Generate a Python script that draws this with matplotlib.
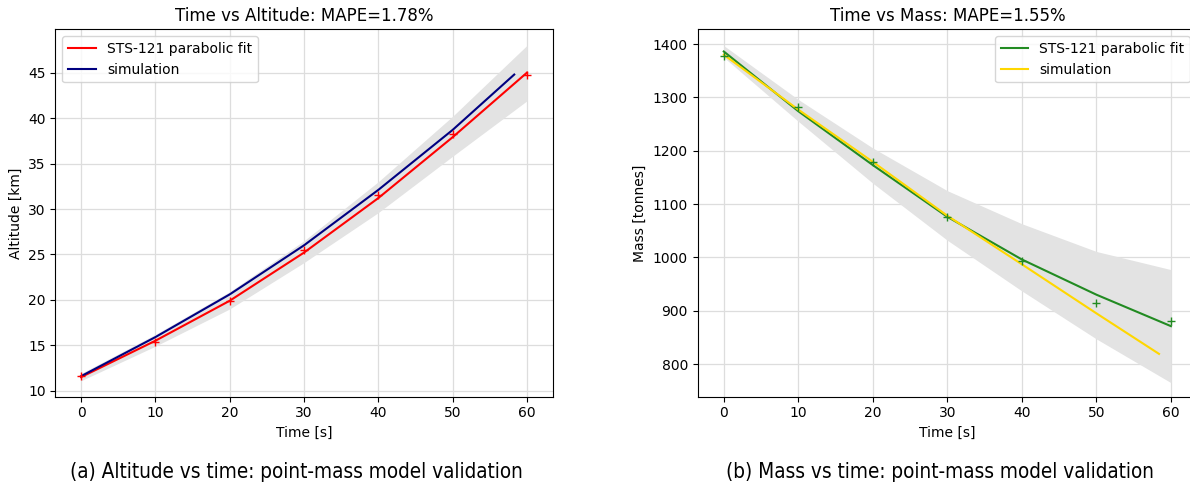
import matplotlib
matplotlib.use('Agg')
import matplotlib.pyplot as plt

# altitude panel
alt_t = [0, 10, 20, 30, 40, 50, 60]
alt_data = [11.6, 15.4, 19.9, 25.5, 31.5, 38.3, 44.8]
alt_fit = [11.5, 15.5, 19.9, 25.2, 31.2, 37.9, 45.0]
alt_upper = [11.9, 16.2, 20.9, 26.5, 33.0, 40.2, 48.0]
alt_lower = [11.1, 14.9, 19.0, 24.1, 29.6, 35.8, 41.9]
alt_sim_t = [0, 10, 20, 30, 40, 50, 58.3]
alt_sim = [11.6, 15.9, 20.6, 26.0, 32.1, 38.7, 44.8]

# mass panel
mass_t = [0, 10, 20, 30, 40, 50, 60]
mass_data = [1377, 1281, 1179, 1076, 994, 914, 881]
mass_fit = [1386, 1274, 1173, 1076, 996, 930, 871]
mass_upper = [1397, 1296, 1205, 1125, 1063, 1011, 977]
mass_lower = [1375, 1255, 1139, 1032, 937, 847, 765]
mass_sim_t = [0, 10, 20, 30, 40, 50, 58.4]
mass_sim = [1380, 1277, 1179, 1078, 987, 895, 819]

FS = 10

fig = plt.figure(figsize=(11.9, 4.9), dpi=100)
ax1 = fig.add_axes([0.0466, 0.1904, 0.418, 0.7498])
ax2 = fig.add_axes([0.5863, 0.1904, 0.4196, 0.7498])


def draw(ax, t, data, fit, lo, hi, st, sim, c_fit, c_sim, title, ylabel, loc):
    ax.grid(True, color='#dddddd', linewidth=0.9)
    ax.set_axisbelow(True)
    ax.fill_between(t, lo, hi, color='#e3e3e3', linewidth=0)
    ax.plot(t, fit, color=c_fit, lw=1.5, label='STS-121 parabolic fit')
    ax.plot(st, sim, color=c_sim, lw=1.5, label='simulation')
    ax.plot(t, data, '+', color=c_fit, ms=6, mew=1.0)
    ax.set_title(title, fontsize=12)
    ax.set_xlabel('Time [s]', fontsize=FS)
    ax.set_ylabel(ylabel, fontsize=FS)
    ax.tick_params(labelsize=FS)
    ax.set_xticks(range(0, 61, 10))
    ax.legend(loc=loc, fontsize=FS)


draw(ax1, alt_t, alt_data, alt_fit, alt_lower, alt_upper, alt_sim_t, alt_sim,
     'red', 'navy', 'Time vs Altitude: MAPE=1.78%', 'Altitude [km]', 'upper left')
ax1.set_xlim(-3.45, 63.5)
ax1.set_ylim(9.34, 49.78)

draw(ax2, mass_t, mass_data, mass_fit, mass_lower, mass_upper, mass_sim_t, mass_sim,
     'forestgreen', 'gold', 'Time vs Mass: MAPE=1.55%', 'Mass [tonnes]', 'upper right')
ax2.set_xlim(-3.5, 63.5)
ax2.set_ylim(738.7, 1427.6)

cap = dict(fontsize=14.9, family=['DejaVu Sans'], fontstretch='condensed',
           ha='center', va='center')
fig.text(0.249, 0.037, '(a) Altitude vs time: point-mass model validation', **cap)
fig.text(0.790, 0.037, '(b) Mass vs time: point-mass model validation', **cap)

fig.savefig('out.png', dpi=100)
